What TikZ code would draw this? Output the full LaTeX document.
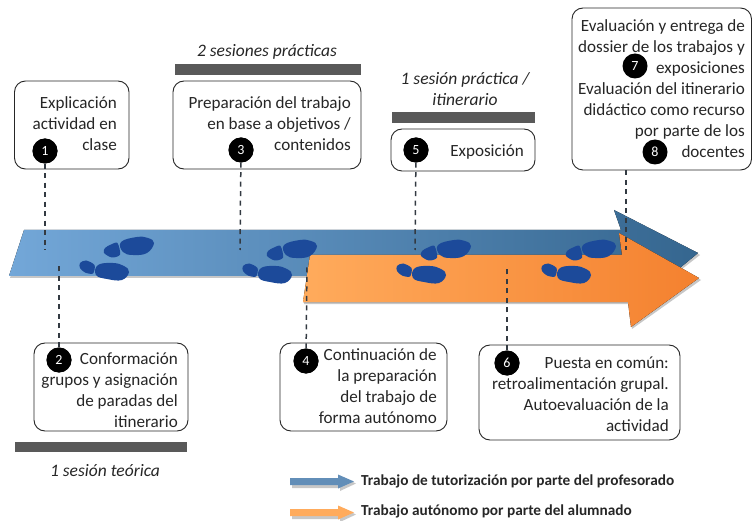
\documentclass[tikz,border=0pt]{standalone}
\usepackage{fontspec}
\setmainfont{Carlito}
\definecolor{bluea}{HTML}{73A7D8}
\definecolor{blueb}{HTML}{35668F}
\definecolor{orangea}{HTML}{FFAB5C}
\definecolor{orangeb}{HTML}{F4812F}
\definecolor{footc}{HTML}{1C4A9A}
\definecolor{barc}{HTML}{595959}
\definecolor{dashc}{HTML}{333A42}
\tikzset{
  boxst/.style={draw=black!85,line width=0.9pt,rounded corners=11pt,fill=white,inner sep=0pt},
  lab/.style={anchor=east,align=right,inner sep=0pt,text=black!85,font=\fontsize{17.1}{21}\selectfont},
  numst/.style={circle,fill=black,text=white,minimum size=25pt,inner sep=0pt,font=\fontsize{14}{14}\selectfont},
  barst/.style={fill=barc,draw=none,inner sep=0pt},
  conn/.style={draw=dashc,line width=1.5pt,dash pattern=on 5pt off 4.5pt},
  ital/.style={font=\fontsize{17.5}{21}\selectfont\itshape,align=center,inner sep=0pt,text=black!85},
  legt/.style={font=\fontsize{15.3}{15}\selectfont\bfseries,anchor=west,inner sep=0pt,text=black!85},
  shad/.style={fill=black,opacity=.22,draw=none},
  footp/.style={fill=footc,draw=none},
}
\newcommand{\footpair}[2]{%
\begin{scope}[shift={(#1,#2)}]
\fill[footp] plot[smooth cycle,tension=.7] coordinates {(121,242)(137,237)(148,238)(154,243)(147,253)(133,255)(123,252)};
\fill[footp] plot[smooth cycle,tension=.5] coordinates {(117.5,243)(120,254.5)(112,257.5)(104,253)(105,248)(111,244.5)};
\fill[footp] plot[smooth cycle,tension=.5] coordinates {(80,263)(86,260.5)(94.5,265)(93,273.5)(85,272.5)(80,268)};
\fill[footp] plot[smooth cycle,tension=.7] coordinates {(98,265)(113,263)(124,266)(129,272)(122,280)(107,279)(96,275)};
\end{scope}}
\begin{document}
\begin{tikzpicture}[x=1pt,y=-1pt]
\useasboundingbox (0,0) rectangle (752,521);
% big arrows
\fill[shad] (10,278)--(24,231)--(622,231)--(615,211)--(700,255)--(664,283)--(622,278)--cycle;
\fill[left color=bluea,right color=blueb] (24,230)--(621,230)--(614,210)--(698,253)--(664,281)--(622,276)--(9,276)--cycle;
\fill[shad] (304,304)--(311,257)--(622,257)--(620,235)--(701,280)--(632,329)--(629,304)--cycle;
\fill[left color=orangea,right color=orangeb] (310,255)--(622,255)--(619,233)--(699,278)--(631,327)--(628,302)--(303,302)--cycle;
\footpair{0}{0}\footpair{163}{3}\footpair{317}{3}\footpair{462}{3}
% free ends
\coordinate (e1) at (45,250);
\coordinate (e3) at (240,250);
\coordinate (e5) at (415,250);
\coordinate (e7) at (626,250);
\coordinate (e2) at (59,264);
\coordinate (e4) at (307,264);
\coordinate (e6) at (507,267);
% boxes
\node[boxst,minimum width=114.5pt,minimum height=88pt] (b1) at (71.75,125) {};
\node[boxst,minimum width=188pt,minimum height=88pt] (b3) at (267,125) {};
\node[boxst,minimum width=144pt,minimum height=42pt] (b5) at (463,150) {};
\node[boxst,minimum width=179.5pt,minimum height=162pt] (b7) at (661.75,89) {};
\node[boxst,minimum width=154pt,minimum height=88pt] (b2) at (111,387) {};
\node[boxst,minimum width=167pt,minimum height=88pt] (b4) at (363.5,387) {};
\node[boxst,minimum width=201pt,minimum height=95pt] (b6) at (579.5,392.5) {};
% connectors
\node[numst] (n1) at (45,151) {1};
\node[numst] (n3) at (241,150) {3};
\node[numst] (n5) at (416,150) {5};
\node[numst] (n7) at (635,66) {7};
\node[numst] (n8) at (655,152) {8};
\node[numst] (n2) at (59,360) {2};
\node[numst] (n4) at (306,361) {4};
\node[numst] (n6) at (507,363) {6};
\draw[conn] (n1) -- (e1);
\draw[conn] (n3) -- (e3);
\draw[conn] (n5) -- (e5);
\draw[conn] (e7 |- b7.south) -- (e7);
\draw[conn] (n2) -- (e2);
\draw[conn] (n4) -- (e4);
\draw[conn] (n6) -- (e6);
\node[numst] at (n1) {1};
\node[numst] at (n3) {3};
\node[numst] at (n5) {5};
\node[numst] at (n2) {2};
\node[numst] at (n4) {4};
\node[numst] at (n6) {6};
% box texts
\node[lab] (t1) at (117,124) {Explicación\\actividad en\\clase};
\node[lab] (t3) at (351,124) {Preparación del trabajo\\en base a objetivos /\hspace*{5pt}\\contenidos};
\node[lab] (t5) at (524,152) {Exposición};
\node[lab] (t7) at (745,88.5) {Evaluación y entrega de\\dossier de los trabajos y\hspace*{-5pt}\\exposiciones\\Evaluación del itinerario\\didáctico como recurso\\por parte de los\\docentes};
\node[lab] (t2) at (178,390) {Conformación\\grupos y asignación\\de paradas del\\itinerario};
\node[lab] (t4) at (437,386) {Continuación de\\la preparación\\del trabajo de\\forma autónomo};
\node[lab] (t6) at (669,394) {Puesta en común:\\retroalimentación grupal.\\Autoevaluación de la\\actividad};
% bars
\node[barst,minimum width=186pt,minimum height=11pt] (bar3) at (268,69.5) {};
\node[barst,minimum width=143pt,minimum height=11pt] (bar5) at (463.5,117.5) {};
\node[barst,minimum width=172pt,minimum height=10pt] (bar2) at (101,447) {};
\node[ital] (s3) at (267,52) {2 sesiones prácticas};
\node[ital] (s5) at (465,89) {1 sesión práctica /\\itinerario};
\node[ital] (s2) at (105,471) {1 sesión teórica};
% legend
\fill[shad] (292,479)--(340,479)--(340,476)--(356,483.5)--(340,491)--(340,488)--(292,488)--cycle;
\fill[bluea!85!black] (290,478)--(338,478)--(338,474.5)--(354,481.5)--(338,488.5)--(338,485)--(290,485)--cycle;
\fill[shad] (292,510)--(340,510)--(340,507)--(356,514.5)--(340,522)--(340,519)--(292,519)--cycle;
\fill[orangea] (290,509)--(338,509)--(338,505.5)--(354,512.5)--(338,519.5)--(338,516)--(290,516)--cycle;
\node[legt] (l1) at (361,481) {Trabajo de tutorización por parte del profesorado};
\node[legt] (l2) at (361,511) {Trabajo autónomo por parte del alumnado};
\end{tikzpicture}
\end{document}
